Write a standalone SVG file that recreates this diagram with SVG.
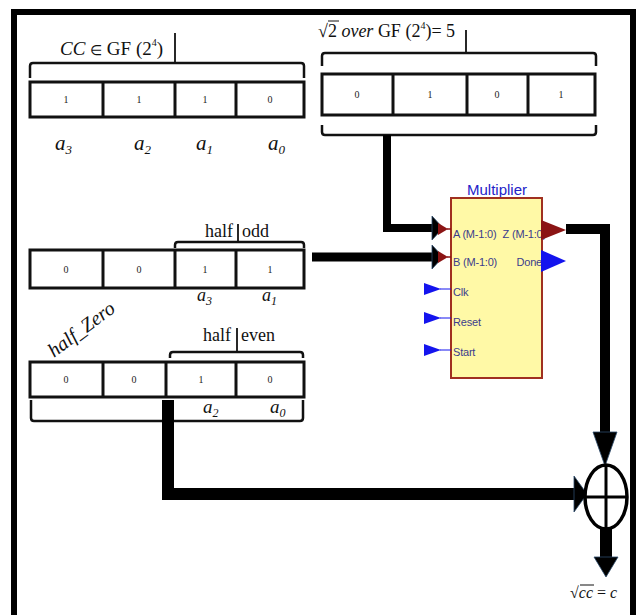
<svg xmlns="http://www.w3.org/2000/svg" width="636" height="615" viewBox="0 0 636 615">
<style>
.reg{fill:#fff;stroke:#111;stroke-width:3}
.dv{stroke:#111;stroke-width:3}
.brace{fill:none;stroke:#111;stroke-width:2.5;stroke-linejoin:round}
.tick{stroke:#111;stroke-width:1.8}
.bit{font-family:"Liberation Serif",serif;font-size:10px;text-anchor:middle;fill:#222}
.it{font-family:"Liberation Serif",serif;font-style:italic;fill:#111}
.rm{font-family:"Liberation Serif",serif;fill:#111}
.pin{font-family:"Liberation Sans",Arial,sans-serif;font-size:11px;fill:#3c3c8c;letter-spacing:-0.2px}
.wire{fill:none;stroke:#000;stroke-linejoin:miter}
.head{fill:#000;stroke:#2b4a6b;stroke-width:0.8}
.rpin{fill:#8b1414}
.bpin{fill:#1414ee}
</style>
<rect width="636" height="615" fill="#fff"/>
<path d="M14,615 V12 H633 V615" fill="none" stroke="#000" stroke-width="6"/>

<g id="reg-cc">
  <text class="rm" x="60" y="55" font-size="19"><tspan font-style="italic">CC</tspan> <tspan font-size="14">∈</tspan>  GF (2<tspan font-size="10" dy="-9">4</tspan><tspan dy="9">)</tspan></text>
  <line class="tick" x1="175" y1="33" x2="175" y2="63"/>
  <path class="brace" d="M30,78 V66 Q30,63 33,63 H301 Q304,63 304,66 V78"/>
  <rect class="reg" x="30" y="82" width="274" height="35"/>
  <line class="dv" x1="103" y1="82" x2="103" y2="117"/>
  <line class="dv" x1="175" y1="82" x2="175" y2="117"/>
  <line class="dv" x1="236" y1="82" x2="236" y2="117"/>
  <text class="bit" x="66" y="103">1</text>
  <text class="bit" x="139" y="103">1</text>
  <text class="bit" x="205" y="103">1</text>
  <text class="bit" x="270" y="103">0</text>
  <text class="it" x="55" y="150" font-size="21">a<tspan font-size="13" dy="4">3</tspan></text>
  <text class="it" x="134" y="150" font-size="21">a<tspan font-size="13" dy="4">2</tspan></text>
  <text class="it" x="196" y="150" font-size="21">a<tspan font-size="13" dy="4">1</tspan></text>
  <text class="it" x="268" y="150" font-size="21">a<tspan font-size="13" dy="4">0</tspan></text>
</g>

<g id="reg-sqrt2">
  <text class="rm" x="318" y="37" font-size="18">√2<tspan font-style="italic"> over</tspan> GF (2<tspan font-size="10" dy="-8">4</tspan><tspan dy="8">)= 5</tspan></text>
  <line x1="328" y1="21" x2="339" y2="21" stroke="#111" stroke-width="1"/>
  <line class="tick" x1="466" y1="30" x2="466" y2="53"/>
  <path class="brace" d="M322,66 V56 Q322,53 325,53 H593 Q596,53 596,56 V66"/>
  <rect class="reg" x="322" y="74" width="273" height="41"/>
  <line class="dv" x1="393" y1="74" x2="393" y2="115"/>
  <line class="dv" x1="467" y1="74" x2="467" y2="115"/>
  <line class="dv" x1="528" y1="74" x2="528" y2="115"/>
  <text class="bit" x="357" y="98">0</text>
  <text class="bit" x="430" y="98">1</text>
  <text class="bit" x="497" y="98">0</text>
  <text class="bit" x="561" y="98">1</text>
  <path class="brace" d="M322,125 V132 Q322,135 325,135 H593 Q596,135 596,132 V125"/>
</g>

<g id="reg-odd">
  <text class="rm" x="205" y="237" font-size="18">half</text>
  <text class="rm" x="242" y="237" font-size="18">odd</text>
  <line class="tick" x1="238" y1="224" x2="238" y2="242"/>
  <path class="brace" d="M175,248 V245 Q175,242 178,242 H301 Q304,242 304,245 V248"/>
  <rect class="reg" x="30" y="250" width="274" height="38"/>
  <line class="dv" x1="103" y1="250" x2="103" y2="288"/>
  <line class="dv" x1="175" y1="250" x2="175" y2="288"/>
  <line class="dv" x1="236" y1="250" x2="236" y2="288"/>
  <text class="bit" x="66" y="273">0</text>
  <text class="bit" x="139" y="273">0</text>
  <text class="bit" x="205" y="273">1</text>
  <text class="bit" x="270" y="273">1</text>
  <text class="it" x="197" y="301" font-size="18">a<tspan font-size="12" dy="4">3</tspan></text>
  <text class="it" x="262" y="301" font-size="18">a<tspan font-size="12" dy="4">1</tspan></text>
</g>

<g id="reg-even">
  <text class="it" font-size="20" transform="translate(54,358) rotate(-37)">half_Zero</text>
  <text class="rm" x="203" y="341" font-size="18">half</text>
  <text class="rm" x="241" y="341" font-size="18">even</text>
  <line class="tick" x1="237" y1="328" x2="237" y2="352"/>
  <path class="brace" d="M170,358 V355 Q170,352 173,352 H300 Q303,352 303,355 V358"/>
  <rect class="reg" x="30" y="362" width="274" height="35"/>
  <line class="dv" x1="103" y1="362" x2="103" y2="397"/>
  <line class="dv" x1="166" y1="362" x2="166" y2="397"/>
  <line class="dv" x1="236" y1="362" x2="236" y2="397"/>
  <text class="bit" x="66" y="383">0</text>
  <text class="bit" x="134" y="383">0</text>
  <text class="bit" x="201" y="383">1</text>
  <text class="bit" x="270" y="383">0</text>
  <path class="brace" d="M31,400 V418 Q31,421 34,421 H300 Q303,421 303,418 V400"/>
  <text class="it" x="203" y="413" font-size="19">a<tspan font-size="12" dy="4">2</tspan></text>
  <text class="it" x="270" y="413" font-size="19">a<tspan font-size="12" dy="4">0</tspan></text>
</g>

<g id="connectors">
  <path class="wire" stroke-width="8" d="M387,135 V228 H433"/>
  <polygon class="head" points="432,216 443,228 432,240"/>
  <path class="wire" stroke-width="9" d="M312,257 H433"/>
  <polygon class="head" points="432,245 443,257 432,269"/>
  <path class="wire" stroke-width="10" d="M566,229 H605 V433"/>
  <polygon class="head" points="593,432 617,432 605,466"/>
  <path class="wire" stroke-width="12" d="M168,400 V494 H575"/>
  <polygon class="head" points="574,476 587,494 574,512"/>
  <path class="wire" stroke-width="12" d="M606,527 V558"/>
  <polygon class="head" points="594,557 618,557 606,577"/>
</g>

<g id="multiplier">
  <text x="497" y="195" font-family="Liberation Sans, Arial, sans-serif" font-size="15" fill="#2323c8" text-anchor="middle">Multiplier</text>
  <rect x="451" y="198" width="91" height="180" fill="#fff9a6" stroke="#a03020" stroke-width="2"/>
  <text class="pin" x="453" y="238">A (M-1:0)</text>
  <text class="pin" x="546" y="238" text-anchor="end">Z (M-1:0)</text>
  <text class="pin" x="453" y="266">B (M-1:0)</text>
  <text class="pin" x="542" y="266" text-anchor="end">Done</text>
  <text class="pin" x="453" y="296">Clk</text>
  <text class="pin" x="453" y="326">Reset</text>
  <text class="pin" x="453" y="356">Start</text>
  <polygon class="rpin" points="438,223 448,229 438,235"/>
  <line x1="447" y1="229" x2="451" y2="229" stroke="#8b1414" stroke-width="1.5"/>
  <polygon class="rpin" points="438,251 448,257 438,263"/>
  <line x1="447" y1="257" x2="451" y2="257" stroke="#8b1414" stroke-width="1.5"/>
  <polygon class="rpin" points="541,220 566,230 541,240"/>
  <polygon class="bpin" points="541,250 566,261 541,272"/>
  <polygon class="bpin" points="424,283 441,289 424,295"/>
  <line x1="440" y1="289" x2="451" y2="289" stroke="#1414ee" stroke-width="1"/>
  <polygon class="bpin" points="424,312 441,318 424,324"/>
  <line x1="440" y1="318" x2="451" y2="318" stroke="#1414ee" stroke-width="1"/>
  <polygon class="bpin" points="424,344 441,350 424,356"/>
  <line x1="440" y1="350" x2="451" y2="350" stroke="#1414ee" stroke-width="1"/>
</g>

<g id="xor">
  <ellipse cx="606" cy="497" rx="21" ry="32" fill="#fff" stroke="#000" stroke-width="3.5"/>
  <line x1="606" y1="465" x2="606" y2="529" stroke="#000" stroke-width="3"/>
  <line x1="585" y1="497" x2="627" y2="497" stroke="#000" stroke-width="3"/>
</g>

<g id="result">
  <text class="rm" x="570" y="598" font-size="16">√<tspan font-style="italic">cc</tspan> = <tspan font-style="italic">c</tspan></text>
  <line x1="580" y1="585" x2="594" y2="585" stroke="#111" stroke-width="1"/>
</g>
</svg>
